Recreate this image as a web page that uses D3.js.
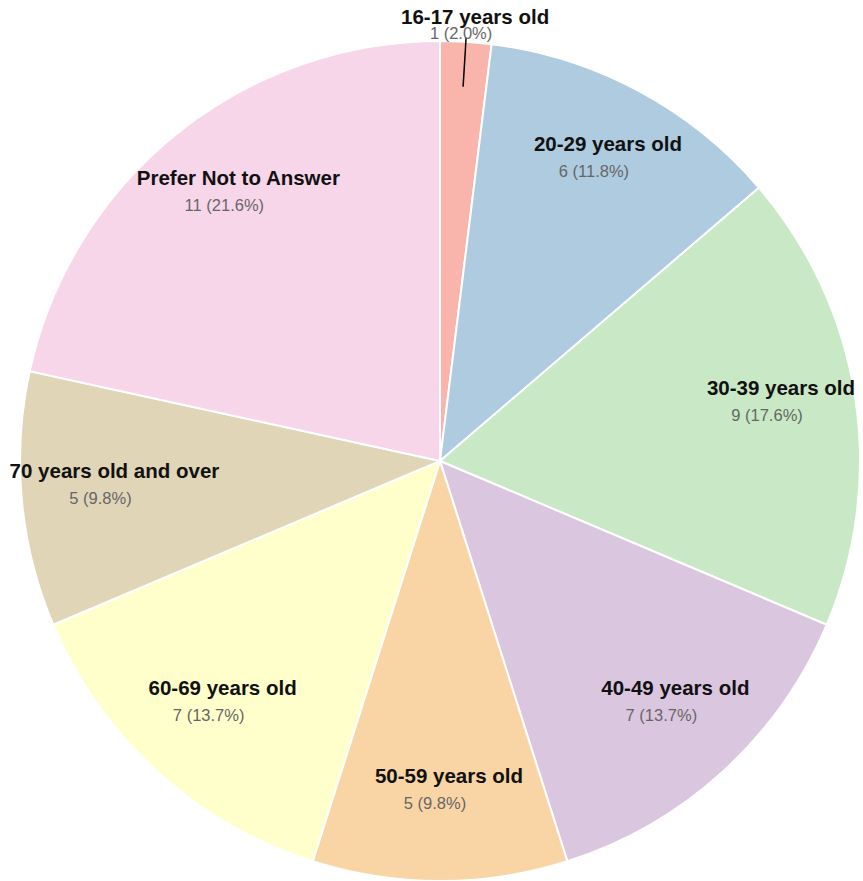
<!DOCTYPE html>
<html>
<head>
<meta charset="utf-8">
<script src="https://cdn.jsdelivr.net/npm/d3@7/dist/d3.min.js"></script>
<style>
  html, body { margin: 0; padding: 0; background: #fff; }
  svg { display: block; font-family: "Liberation Sans", Arial, sans-serif; }
</style>
</head>
<body>
<svg id="chart" width="863" height="881"></svg>
<script>
const categories = ["16-17 years old", "20-29 years old", "30-39 years old", "40-49 years old",
  "50-59 years old", "60-69 years old", "70 years old and over", "Prefer Not to Answer"];
const counts = [1, 6, 9, 7, 5, 7, 5, 11];
const colors = ["#f9b4ab", "#aecbe0", "#c9e8c5", "#dbc6e0", "#f9d5a5", "#ffffcc", "#e0d5b7", "#f8d6ea"];

const width = 863, height = 881;
const cx = 440, cy = 461, radius = 420;
const total = d3.sum(counts);
const data = categories.map((c, i) => ({ name: c, value: counts[i], color: colors[i] }));

const svg = d3.select("#chart");
const g = svg.append("g").attr("transform", `translate(${cx},${cy})`);

const pie = d3.pie().value(d => d.value).sort(null);
const arcs = pie(data);
const arc = d3.arc().innerRadius(0).outerRadius(radius);
const labelArc = d3.arc().innerRadius(336).outerRadius(336);
const lineInner = d3.arc().innerRadius(375).outerRadius(375);
const lineOuter = d3.arc().innerRadius(424).outerRadius(424);

g.selectAll("path.slice").data(arcs).join("path")
  .attr("class", "slice")
  .attr("d", arc)
  .attr("fill", d => d.data.color)
  .attr("stroke", "#fff")
  .attr("stroke-width", 2);

const fmt = v => `${v} (${(v / total * 100).toFixed(1)}%)`;
const small = d => (d.endAngle - d.startAngle) < 0.2;

// leader lines for small slices
g.selectAll("line.leader").data(arcs.filter(small)).join("line")
  .attr("class", "leader")
  .attr("x1", d => lineInner.centroid(d)[0])
  .attr("y1", d => lineInner.centroid(d)[1])
  .attr("x2", d => lineOuter.centroid(d)[0])
  .attr("y2", d => lineOuter.centroid(d)[1])
  .attr("stroke", "#000")
  .attr("stroke-width", 1.5);

const labels = g.selectAll("g.label").data(arcs).join("g").attr("class", "label")
  .attr("transform", d => {
    const p = small(d) ? lineOuter.centroid(d) : labelArc.centroid(d);
    return `translate(${p[0]},${p[1]})`;
  });

labels.append("text")
  .attr("text-anchor", "middle")
  .attr("x", 9)
  .attr("y", -14)
  .attr("font-size", 20.5)
  .attr("font-weight", "bold")
  .attr("fill", "#111")
  .text(d => d.data.name);

labels.append("text")
  .attr("text-anchor", "middle")
  .attr("x", -5)
  .attr("y", d => small(d) ? 1 : 12)
  .attr("font-size", 16.5)
  .attr("fill", "#666")
  .text(d => fmt(d.data.value));
</script>
</body>
</html>
